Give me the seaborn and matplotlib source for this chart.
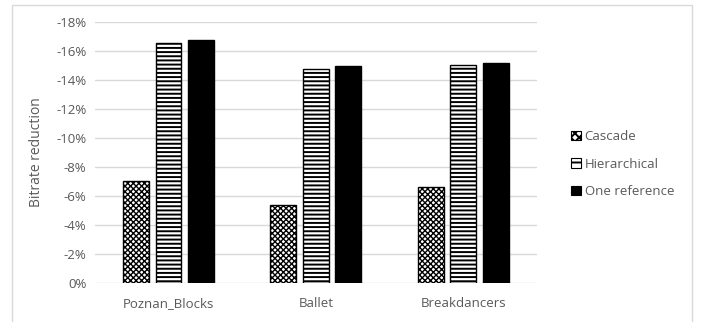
import matplotlib
matplotlib.use("Agg")
import matplotlib.pyplot as plt
import matplotlib.patches as mpatches
from matplotlib.ticker import FuncFormatter
import pandas as pd
import seaborn as sns

# Bitrate reduction per sequence (percent, negative = saving)
sequences = ["Poznan_Blocks", "Ballet", "Breakdancers"]
methods = ["Cascade", "Hierarchical", "One reference"]
cascade = [-7.0, -5.4, -6.6]
hierarchical = [-16.55, -14.75, -15.05]
one_reference = [-16.8, -15.0, -15.2]
y_ticks = [0, -2, -4, -6, -8, -10, -12, -14, -16, -18]

rows = []
for seq, c, h, o in zip(sequences, cascade, hierarchical, one_reference):
    rows.append((seq, methods[0], c))
    rows.append((seq, methods[1], h))
    rows.append((seq, methods[2], o))
df = pd.DataFrame(rows, columns=["Sequence", "Method", "Reduction"])

sns.set_theme(style="white")
plt.rcParams["font.family"] = ["Open Sans", "DejaVu Sans"]
plt.rcParams["hatch.linewidth"] = 1.4
plt.rcParams["hatch.color"] = "black"

text_col = "#595959"
grid_col = "#d9d9d9"

fig = plt.figure(figsize=(7.02, 3.22), dpi=100)
ax = fig.add_axes([0.135, 0.122, 0.630, 0.809])

fills = {"Cascade": "white", "Hierarchical": "white", "One reference": "black"}
hatches = ["xxxxxx", "----", ""]
hatch_widths = [1.0, 1.4, 1.0]

sns.barplot(data=df, x="Sequence", y="Reduction", hue="Method",
            hue_order=methods, palette=fills, width=0.66, gap=0.2,
            edgecolor="black", linewidth=1.0, legend=False, ax=ax, zorder=3)

for cont, h, hw in zip(ax.containers, hatches, hatch_widths):
    for bar in cont:
        bar.set_hatch(h)
        bar.set_edgecolor("black")
        if hasattr(bar, "set_hatch_linewidth"):
            bar.set_hatch_linewidth(hw)

ax.set_ylim(0, -18)
ax.set_yticks(y_ticks)
ax.yaxis.set_major_formatter(FuncFormatter(lambda v, p: f"{int(round(v))}%"))
ax.grid(axis="y", color=grid_col, linewidth=1.0, zorder=0)
ax.set_axisbelow(True)
for s in ax.spines.values():
    s.set_visible(False)
ax.tick_params(axis="both", length=0, labelsize=9.5, colors=text_col, pad=6)
ax.tick_params(axis="x", pad=10)
ax.set_xlabel("")
ax.set_ylabel("Bitrate reduction", fontsize=10, color=text_col, labelpad=9)

handles = []
for m, h in zip(methods, ["xxxx", "--", ""]):
    p = mpatches.Patch(facecolor=fills[m], edgecolor="black", hatch=h, linewidth=0.8)
    handles.append(p)
leg = fig.legend(handles, methods, loc="center left", bbox_to_anchor=(0.797, 0.49),
                 frameon=False, fontsize=9.5, handlelength=0.7, handleheight=0.7,
                 handletextpad=0.3, labelspacing=1.1, labelcolor=text_col)

# chart area border
fig.add_artist(mpatches.Rectangle((12 / 702, -0.01), 680 / 702, 0.995,
                                  transform=fig.transFigure, fill=False,
                                  edgecolor="#d9d9d9", linewidth=1.0))

fig.savefig("out.png", dpi=100, facecolor="white")
